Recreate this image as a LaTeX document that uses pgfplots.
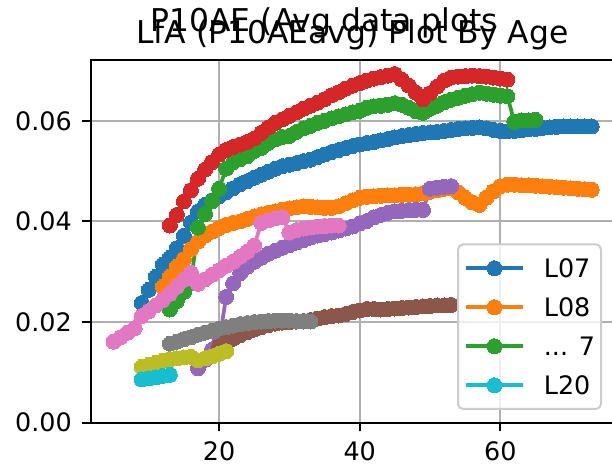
\documentclass[border=0pt]{standalone}
\usepackage{fontspec}
\setmainfont{DejaVu Sans}
\usepackage{pgfplots}
\pgfplotsset{compat=1.18}
\definecolor{C0}{HTML}{1F77B4}
\definecolor{C1}{HTML}{FF7F0E}
\definecolor{C2}{HTML}{2CA02C}
\definecolor{C3}{HTML}{D62728}
\definecolor{C4}{HTML}{9467BD}
\definecolor{C5}{HTML}{8C564B}
\definecolor{C6}{HTML}{E377C2}
\definecolor{C7}{HTML}{7F7F7F}
\definecolor{C8}{HTML}{BCBD22}
\definecolor{C9}{HTML}{17BECF}
\pgfplotsset{
  ser/.style={color=#1, line width=3.75bp, mark=*, mark size=7.5bp, mark options={solid, draw=#1, fill=#1, line width=0pt}},
}
\begin{document}
\begin{tikzpicture}
\begin{axis}[
  at={(0,0)}, anchor=south west,
  scale only axis, width=523.3bp, height=362.7bp,
  xmin=1.74, xmax=76.17, ymin=0, ymax=0.0721,
  xtick={20,40,60}, ytick={0,0.02,0.04,0.06},
  yticklabels={0.00,0.02,0.04,0.06},
  scaled y ticks=false,
  /pgf/number format/assume math mode=true,
  ticklabel style={font=\fontsize{25.5}{30}\selectfont},
  xticklabel style={anchor=north, inner sep=0pt, text height=18.6bp, text depth=0pt, yshift=-10bp},
  yticklabel style={anchor=east, inner sep=0pt, xshift=-10bp},
  xtick pos=bottom, ytick pos=left,
  tick align=outside, major tick length=8.75bp,
  tick style={line width=2bp, black},
  axis line style={line width=2bp, black},
  grid=major, grid style={line width=2bp, color=black!31},
  legend cell align=left,
  legend image code/.code={\draw[mark repeat=2,mark phase=2,fill opacity=1,draw opacity=1,#1] plot coordinates {(0bp,0bp) (28.5bp,0bp) (57bp,0bp)};},
  legend style={at={(1,0)}, anchor=south east, xshift=-12bp, yshift=12.7bp,
    draw=black!20, line width=2bp, rounded corners=5bp, fill=white, fill opacity=0.8, text opacity=1,
    font=\fontsize{25.5}{30}\selectfont,
    inner xsep=6bp, inner ysep=14.5bp, row sep=20.4bp,
    nodes={inner sep=0pt, text height=18.6bp, text depth=0pt, anchor=west},
    /tikz/every odd column/.append style={column sep=19bp}},
]
% L07 blue
\addplot[ser=C0] coordinates {(9,0.0238)(10,0.0264)(11,0.029)(12,0.0314)(13,0.0328)(14,0.0347)(15,0.0372)(16,0.0398)(17,0.042)(18,0.0433)(19,0.0442)(20,0.045)(21,0.0458)(22,0.0466)(23,0.0474)(24,0.048)(25,0.0487)(26,0.0493)(27,0.0499)(28,0.0505)(29,0.051)(30,0.0513)(31,0.0516)(32,0.052)(33,0.0523)(34,0.0528)(35,0.0533)(36,0.0538)(37,0.0542)(38,0.0546)(39,0.055)(40,0.0553)(41,0.0556)(42,0.0558)(43,0.0561)(44,0.0564)(45,0.0567)(46,0.057)(47,0.0572)(48,0.0574)(49,0.0576)(50,0.0577)(51,0.0578)(52,0.058)(53,0.0582)(54,0.0584)(55,0.0585)(56,0.0586)(57,0.0587)(58,0.0585)(59,0.0582)(60,0.058)(61,0.0579)(62,0.058)(63,0.0581)(64,0.0583)(65,0.0584)(66,0.0586)(67,0.0587)(68,0.0588)(69,0.0589)(70,0.0589)(71,0.0589)(72,0.0589)(73,0.0589)};
\addlegendentry{L07}
% L08 orange
\addplot[ser=C1] coordinates {(12,0.027)(13,0.029)(14,0.031)(15,0.0325)(16,0.0345)(17,0.036)(18,0.0372)(19,0.038)(20,0.0387)(21,0.0393)(22,0.0397)(23,0.04)(24,0.0405)(25,0.041)(26,0.0414)(27,0.0417)(28,0.042)(29,0.0423)(30,0.0426)(31,0.0428)(32,0.043)(33,0.0429)(34,0.0428)(35,0.0427)(36,0.0427)(37,0.043)(38,0.0436)(39,0.0442)(40,0.0447)(41,0.0449)(42,0.045)(43,0.0451)(44,0.0452)(45,0.0452)(46,0.0453)(47,0.0453)(48,0.0454)(49,0.0456)(50,0.0459)(51,0.0462)(52,0.0465)(53,0.0466)(54,0.0458)(55,0.0447)(56,0.0438)(57,0.0433)(58,0.0447)(59,0.046)(60,0.047)(61,0.0473)(62,0.0473)(63,0.0472)(64,0.0472)(65,0.0471)(66,0.047)(67,0.0469)(68,0.0468)(69,0.0467)(70,0.0466)(71,0.0465)(72,0.0464)(73,0.0463)};
\addlegendentry{L08}
% green
\addplot[ser=C2] coordinates {(13,0.0225)(14,0.0242)(15,0.026)(16,0.0278)(17,0.0388)(18,0.0415)(19,0.044)(20,0.0465)(21,0.0505)(22,0.0518)(23,0.0524)(24,0.053)(25,0.054)(26,0.0546)(27,0.0556)(28,0.0563)(29,0.0568)(30,0.057)(31,0.0578)(32,0.0585)(33,0.059)(34,0.0596)(35,0.06)(36,0.0605)(37,0.0609)(38,0.0613)(39,0.0617)(40,0.062)(41,0.0626)(42,0.0629)(43,0.063)(44,0.0632)(45,0.0635)(46,0.0632)(47,0.0626)(48,0.0619)(49,0.0616)(50,0.0624)(51,0.063)(52,0.0637)(53,0.0642)(54,0.0646)(55,0.065)(56,0.0653)(57,0.0656)(58,0.0654)(59,0.0652)(60,0.065)(61,0.0649)(62,0.0598)(63,0.0601)(64,0.0601)(65,0.0602)};
\addlegendentry{... 7}
% red
\addplot[ser=C3, forget plot] coordinates {(13,0.0392)(14,0.0413)(15,0.044)(16,0.0462)(17,0.0485)(18,0.0503)(19,0.0518)(20,0.0533)(21,0.0542)(22,0.0548)(23,0.0553)(24,0.0558)(25,0.0565)(26,0.0576)(27,0.0587)(28,0.0596)(29,0.0603)(30,0.061)(31,0.0617)(32,0.0624)(33,0.063)(34,0.0636)(35,0.0643)(36,0.0651)(37,0.0657)(38,0.0664)(39,0.067)(40,0.0675)(41,0.068)(42,0.0684)(43,0.0687)(44,0.069)(45,0.0693)(46,0.0682)(47,0.067)(48,0.0656)(49,0.0643)(50,0.0655)(51,0.0668)(52,0.068)(53,0.0686)(54,0.0688)(55,0.0689)(56,0.069)(57,0.0689)(58,0.0688)(59,0.0686)(60,0.0684)(61,0.0682)};
% purple
\addplot[ser=C4, forget plot] coordinates {(17,0.0108)(18,0.0125)(19,0.0145)(20,0.016)(21,0.025)(22,0.0277)(23,0.0297)(24,0.031)(25,0.032)(26,0.0328)(27,0.0336)(28,0.0342)(29,0.0348)(30,0.0353)(31,0.0358)(32,0.0363)(33,0.0368)(34,0.0372)(35,0.0375)(36,0.0378)(37,0.0382)(38,0.0386)(39,0.039)(40,0.0396)(41,0.0401)(42,0.0408)(43,0.0413)(44,0.0417)(45,0.042)(46,0.0421)(47,0.0422)(48,0.0423)(49,0.0423)(50,0.0465)(51,0.0467)(52,0.0469)(53,0.047)};
% brown
\addplot[ser=C5, forget plot] coordinates {(20,0.0152)(21,0.016)(22,0.0167)(23,0.0174)(24,0.018)(25,0.0185)(26,0.019)(27,0.0194)(28,0.0197)(29,0.0199)(30,0.02)(31,0.0201)(32,0.0202)(33,0.0204)(34,0.0207)(35,0.021)(36,0.0212)(37,0.0213)(38,0.0216)(39,0.022)(40,0.0223)(41,0.0226)(42,0.0226)(43,0.0225)(44,0.0226)(45,0.0227)(46,0.0228)(47,0.0229)(48,0.023)(49,0.0231)(50,0.0232)(51,0.0233)(52,0.0233)(53,0.0234)};
% pink
\addplot[ser=C6, forget plot] coordinates {(5,0.0161)(6,0.017)(7,0.0179)(8,0.0188)(9,0.0212)(10,0.0222)(11,0.0233)(12,0.0244)(13,0.0256)(14,0.027)(15,0.0284)(16,0.0298)(17,0.0276)(18,0.0285)(19,0.0294)(20,0.0303)(21,0.0312)(22,0.032)(23,0.033)(24,0.034)(25,0.0352)(26,0.0397)(27,0.0402)(28,0.0406)(29,0.0408)(30,0.0378)(31,0.0383)(32,0.0386)(33,0.0388)(34,0.039)(35,0.0391)(36,0.0392)(37,0.0392)};
% gray
\addplot[ser=C7, forget plot] coordinates {(13,0.0157)(14,0.0161)(15,0.0166)(16,0.017)(17,0.0175)(18,0.0179)(19,0.0183)(20,0.0187)(21,0.019)(22,0.0193)(23,0.0196)(24,0.0198)(25,0.02)(26,0.0201)(27,0.0202)(28,0.0203)(29,0.0203)(30,0.0203)(31,0.0202)(32,0.0201)(33,0.0201)};
% olive
\addplot[ser=C8, forget plot] coordinates {(9,0.0111)(10,0.0115)(11,0.0119)(12,0.0123)(13,0.0126)(14,0.0128)(15,0.013)(16,0.0131)(17,0.0124)(18,0.0128)(19,0.0132)(20,0.0137)(21,0.0142)};
% cyan L20
\addplot[ser=C9] coordinates {(9,0.0086)(10,0.0088)(11,0.009)(12,0.0093)(13,0.0095)};
\addlegendentry{L20}
\end{axis}
\node[anchor=base, font=\fontsize{31.5}{36}\selectfont, inner sep=0pt] at (233.8bp,391bp) {P10AE (Avg data plots};
\node[anchor=base, font=\fontsize{31.5}{36}\selectfont, inner sep=0pt] at (261.8bp,379.4bp) {LfA (P10AEavg) Plot By Age};
\pgfresetboundingbox
\path[use as bounding box] (-90.7bp,-43.3bp) rectangle (521.3bp,422.7bp);
\end{tikzpicture}
\end{document}
